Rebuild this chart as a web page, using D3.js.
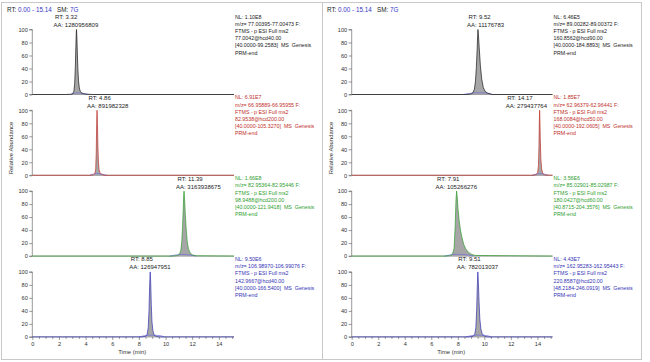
<!DOCTYPE html>
<html><head><meta charset="utf-8">
<script src="https://cdn.jsdelivr.net/npm/d3@7"></script>
<style>
html,body{margin:0;padding:0;background:#fff;}
svg{display:block;font-family:"Liberation Sans",Arial,sans-serif;}
</style></head>
<body><svg id="c" width="650" height="362"></svg>
<script>
// ---------- data ----------
const timeRange = [0, 15.14];
const xTicks = [0, 2, 4, 6, 8, 10, 12, 14];
const yTicks = [0, 20, 40, 60, 80, 100];
const headerText = ["RT: ", "0.00 - 15.14", "   SM: ", "7G"];

// left panel
const leftRT = [3.32, 4.86, 11.39, 8.85];
const leftAA = ["1280956809", "891982328", "3163938675", "126947951"];
const leftNL = ["1.10E8", "6.91E7", "1.66E8", "9.50E6"];
const leftMZ = ["77.00395-77.00473", "66.95889-66.95955", "82.95364-82.95446", "106.98970-106.99076"];
const leftPrec = ["77.0042@hcd40.00", "82.9538@hcd200.00", "98.9488@hcd200.00", "142.9667@hcd40.00"];
const leftRange = ["[40.0000-99.2583]", "[40.0000-105.3270]", "[40.0000-121.9418]", "[40.0000-166.5400]"];

const L1t = [0, 2.5, 2.9, 3.05, 3.12, 3.18, 3.23, 3.27, 3.30, 3.32, 3.35, 3.38, 3.42, 3.47, 3.53, 3.60, 3.70, 3.85, 4.1, 4.5, 15.14];
const L1y = [0, 0, 0.4, 1.5, 5, 16, 42, 74, 94, 100, 86, 64, 40, 21, 10, 5, 2.5, 1.2, 0.5, 0, 0];
const L2t = [0, 4.3, 4.6, 4.7, 4.76, 4.80, 4.83, 4.86, 4.89, 4.92, 4.96, 5.01, 5.08, 5.2, 5.4, 15.14];
const L2y = [0, 0, 0.6, 2.5, 10, 35, 78, 100, 80, 48, 22, 9, 4, 1.5, 0, 0];
const L3t = [0, 10.5, 10.9, 11.05, 11.15, 11.22, 11.28, 11.33, 11.36, 11.39, 11.43, 11.48, 11.55, 11.63, 11.72, 11.85, 12.0, 12.3, 15.14];
const L3y = [0, 0, 0.8, 3, 9, 22, 45, 72, 92, 100, 88, 66, 42, 22, 11, 5, 2, 0.5, 0];
const L4t = [0, 8.2, 8.5, 8.62, 8.70, 8.76, 8.81, 8.85, 8.89, 8.93, 8.98, 9.05, 9.13, 9.25, 9.5, 15.14];
const L4y = [0, 0, 0.8, 4, 14, 40, 80, 100, 82, 50, 24, 10, 4, 1.2, 0, 0];

const L1bt = [2.9, 3.1, 3.35, 3.6, 3.9, 4.2];
const L1by = [0, 1.5, 2.5, 2.2, 1.2, 0];
const L2bt = [4.3, 4.55, 4.8, 5.05, 5.3, 5.6];
const L2by = [0, 1.8, 2.6, 2.4, 1.5, 0];
const L3bt = [10.3, 10.7, 11.1, 11.5, 11.9, 12.3];
const L3by = [0, 1.5, 2.6, 2.4, 1.6, 0];
const L4bt = [8.0, 8.4, 8.8, 9.2, 9.6, 9.9];
const L4by = [0, 1.8, 2.8, 2.5, 2.0, 0];

// right panel
const rightRT = [9.52, 14.17, 7.91, 9.51];
const rightAA = ["11176783", "279437764", "105266276", "782013037"];
const rightNL = ["6.46E5", "1.85E7", "3.56E6", "4.43E7"];
const rightMZ = ["89.00282-89.00372", "62.96379-62.96441", "85.02901-85.02987", "162.95283-162.95443"];
const rightPrec = ["160.8562@hcd90.00", "168.0084@hcd50.00", "180.0427@hcd60.00", "220.8587@hcd20.00"];
const rightRange = ["[40.0000-184.8893]", "[40.0000-192.0605]", "[40.8715-204.3576]", "[48.2184-246.0919]"];

const R1t = [0, 8.6, 9.0, 9.15, 9.25, 9.33, 9.40, 9.46, 9.50, 9.52, 9.56, 9.62, 9.70, 9.80, 9.92, 10.05, 10.25, 10.6, 15.14];
const R1y = [0, 0, 0.8, 3, 8, 20, 42, 70, 92, 100, 90, 70, 45, 24, 11, 5, 2, 0, 0];
const R2t = [0, 13.6, 13.9, 14.02, 14.08, 14.12, 14.15, 14.17, 14.19, 14.22, 14.26, 14.32, 14.4, 14.55, 15.14];
const R2y = [0, 0, 0.8, 4, 15, 45, 85, 100, 86, 55, 26, 10, 3, 0.5, 0];
const R3t = [0, 7.0, 7.4, 7.6, 7.72, 7.80, 7.86, 7.91, 7.96, 8.02, 8.10, 8.20, 8.32, 8.45, 8.60, 8.80, 9.0, 9.3, 15.14];
const R3y = [0, 0, 0.6, 3, 12, 45, 85, 100, 90, 72, 55, 40, 28, 18, 11, 6, 3, 1, 0];
const R4t = [0, 8.8, 9.15, 9.28, 9.36, 9.42, 9.47, 9.51, 9.55, 9.60, 9.66, 9.74, 9.84, 9.98, 10.2, 15.14];
const R4y = [0, 0, 0.8, 4, 14, 40, 78, 100, 84, 55, 28, 12, 5, 1.5, 0, 0];

const R1bt = [8.4, 8.9, 9.4, 9.9, 10.3, 10.6];
const R1by = [0, 1.8, 2.8, 2.6, 1.8, 0];
const R2bt = [13.6, 13.85, 14.1, 14.35, 14.6, 14.8];
const R2by = [0, 1.5, 2.5, 2.3, 1.4, 0];
const R3bt = [7.0, 7.4, 7.8, 8.3, 8.8, 9.2];
const R3by = [0, 1.6, 2.8, 2.6, 1.6, 0];
const R4bt = [8.6, 9.0, 9.4, 9.8, 10.2, 10.5];
const R4by = [0, 1.8, 2.8, 2.6, 2.0, 0];

// ---------- layout / style ----------
const traceColors = ["#1a1a1a", "#c0302a", "#2e9e2e", "#3434b4"];
const textColors = ["#222", "#c0302a", "#2e9e2e", "#3434b4"];
const blueHdr = "#3434c8";
const baseColor = "#6f6fe0";
const fillColor = "#a6a6a6";
const rowTop = [29.5, 110.3, 191.1, 271.9];
const rowH = 65;
const labelDxL = [-23, -10, -8, -21];
const labelDxR = [-11, -34, -21, -21];

const svg = d3.select("#c");

// panel frames
svg.append("rect").attr("x", 1.5).attr("y", 2.5).attr("width", 321).attr("height", 357)
  .attr("fill", "none").attr("stroke", "#c8c8c8").attr("stroke-width", 1);
svg.append("rect").attr("x", 322.5).attr("y", 2.5).attr("width", 319).attr("height", 357)
  .attr("fill", "none").attr("stroke", "#c8c8c8").attr("stroke-width", 1);

function drawPanel(cfg) {
  const g = svg.append("g");
  const x = d3.scaleLinear().domain(timeRange).range([cfg.x0, cfg.x1]);

  // header
  const hdr = g.append("text").attr("x", cfg.hx).attr("y", 12).attr("font-size", 6.3);
  headerText.forEach((s, i) => hdr.append("tspan").text(s)
    .attr("fill", i % 2 === 1 ? blueHdr : "#222").attr("xml:space", "preserve"));

  for (let r = 0; r < 4; r++) {
    const top = rowTop[r], bot = top + rowH;
    const y = d3.scaleLinear().domain([0, 100]).range([bot, top]);
    const pts = cfg.t[r].map((t, i) => [t, cfg.y[r][i]]);
    const bpts = cfg.bt[r].map((t, i) => [t, cfg.by[r][i]]);

    // y axis
    const ya = g.append("g").attr("transform", `translate(${cfg.x0},0)`)
      .call(d3.axisLeft(y).tickValues(yTicks).tickSize(3).tickPadding(1.5));
    ya.selectAll("text").attr("font-size", 5.6).attr("fill", "#333").attr("font-family", "Liberation Sans, Arial, sans-serif");
    ya.selectAll("line").attr("stroke", "#555").attr("stroke-width", 0.6);
    ya.select(".domain").attr("stroke", "#555").attr("stroke-width", 0.6).attr("d", `M-3,${bot}H0V${top}H-3`);

    // x axis
    if (r === 3) {
      const minor = d3.range(0, 15.14, 0.5).filter(v => v % 2 !== 0);
      const xm = g.append("g").attr("transform", `translate(0,${bot})`)
        .call(d3.axisBottom(x).tickValues(minor).tickSize(2).tickFormat(""));
      xm.selectAll("line").attr("stroke", "#555").attr("stroke-width", 0.6);
      xm.select(".domain").remove();
      const xa = g.append("g").attr("transform", `translate(0,${bot})`)
        .call(d3.axisBottom(x).tickValues(xTicks).tickSize(3).tickPadding(2).tickFormat(d3.format("d")));
      xa.selectAll("text").attr("font-size", 5.6).attr("fill", "#333").attr("font-family", "Liberation Sans, Arial, sans-serif");
      xa.selectAll("line").attr("stroke", "#555").attr("stroke-width", 0.6);
      xa.select(".domain").attr("stroke", "#555").attr("stroke-width", 0.6).attr("d", `M${cfg.x0},0H${cfg.x1}`);
      g.append("text").attr("x", x(7.5)).attr("y", bot + 17.5).attr("text-anchor", "middle")
        .attr("font-size", 5.9).attr("fill", "#333").text("Time (min)");
    } else {
      g.append("line").attr("x1", cfg.x0).attr("x2", cfg.x1).attr("y1", bot).attr("y2", bot)
        .attr("stroke", "#555").attr("stroke-width", 0.6);
    }

    // peak fill
    g.append("path").datum(pts)
      .attr("d", d3.area().x(d => x(d[0])).y0(bot).y1(d => y(d[1])))
      .attr("fill", fillColor);
    // baseline trace
    g.append("path").datum(bpts)
      .attr("d", d3.line().x(d => x(d[0])).y(d => y(d[1])).curve(d3.curveMonotoneX))
      .attr("fill", "none").attr("stroke", baseColor).attr("stroke-width", 0.7);
    // trace
    g.append("path").datum(pts)
      .attr("d", d3.line().x(d => x(d[0])).y(d => y(d[1])))
      .attr("fill", "none").attr("stroke", traceColors[r]).attr("stroke-width", 0.7);

    // peak labels
    const lx = x(cfg.rt[r]) + cfg.dx[r];
    g.append("text").attr("x", lx + 1.5).attr("y", top - 10.5).attr("font-size", 6)
      .attr("fill", "#222").text("RT: " + cfg.rt[r].toFixed(2));
    g.append("text").attr("x", lx).attr("y", top - 2.5).attr("font-size", 6)
      .attr("fill", "#222").text("AA: " + cfg.aa[r]);

    // annotation block
    const lines = ["NL: " + cfg.nl[r], "m/z= " + cfg.mz[r] + " F:", "FTMS - p ESI Full ms2",
      cfg.prec[r], cfg.range[r] + "  MS  Genesis", "PRM-end"];
    const ann = g.append("text").attr("font-size", 5.3).attr("fill", textColors[r]);
    lines.forEach((s, i) => ann.append("tspan").attr("x", cfg.x1 + 1)
      .attr("y", top - 11 + i * 7.2).attr("xml:space", "preserve").text(s));
  }
}

drawPanel({x0: 32.3, x1: 234, hx: 7, t: [L1t, L2t, L3t, L4t], y: [L1y, L2y, L3y, L4y],
  bt: [L1bt, L2bt, L3bt, L4bt], by: [L1by, L2by, L3by, L4by],
  rt: leftRT, aa: leftAA, nl: leftNL, mz: leftMZ, prec: leftPrec, range: leftRange, dx: labelDxL});
drawPanel({x0: 351.7, x1: 552.5, hx: 327, t: [R1t, R2t, R3t, R4t], y: [R1y, R2y, R3y, R4y],
  bt: [R1bt, R2bt, R3bt, R4bt], by: [R1by, R2by, R3by, R4by],
  rt: rightRT, aa: rightAA, nl: rightNL, mz: rightMZ, prec: rightPrec, range: rightRange, dx: labelDxR});

// y-axis titles
[13, 333].forEach(xx => svg.append("text")
  .attr("transform", `translate(${xx},148) rotate(-90)`)
  .attr("text-anchor", "middle").attr("font-size", 5.9).attr("fill", "#333").text("Relative Abundance"));
</script></body></html>
